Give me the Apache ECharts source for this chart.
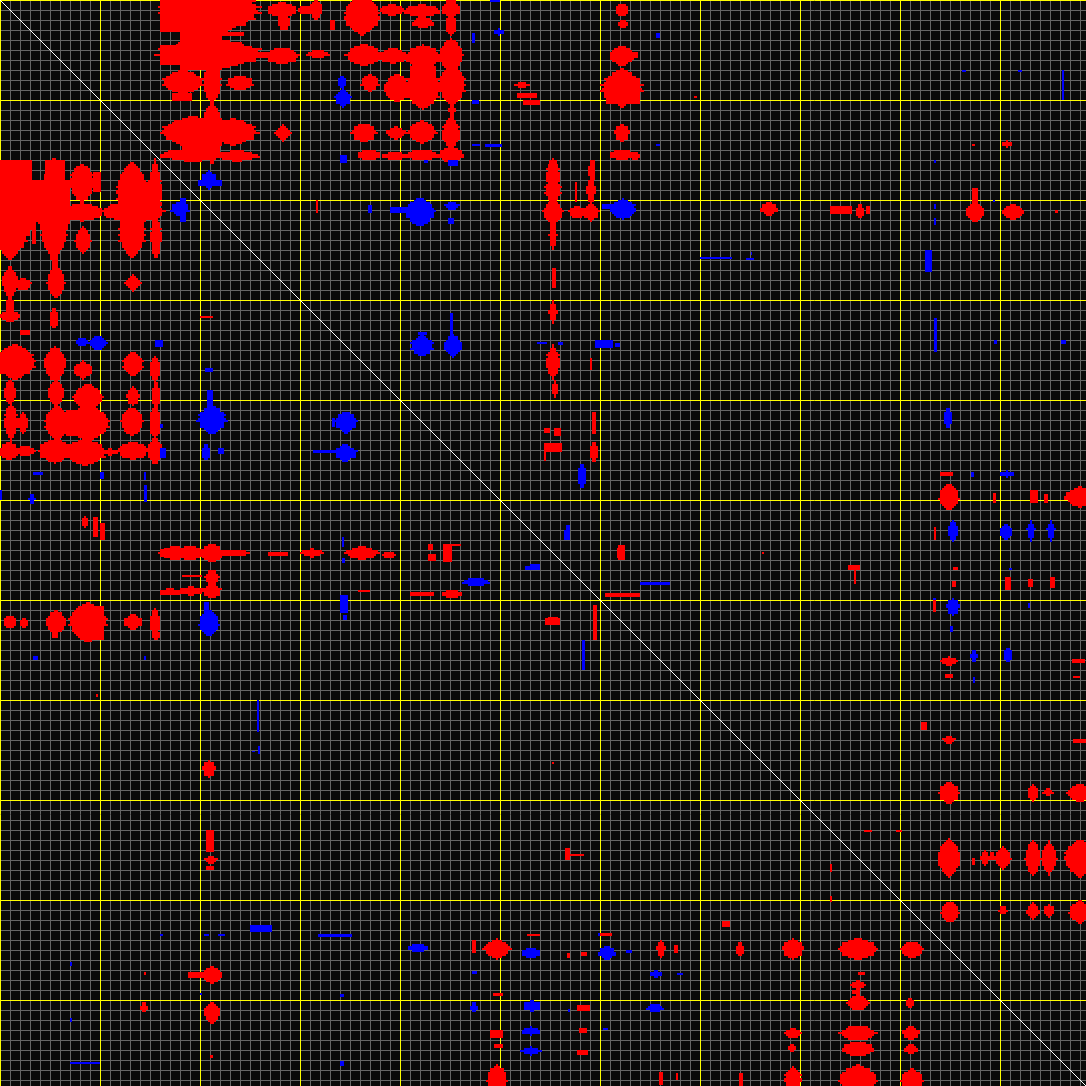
<!DOCTYPE html>
<html><head><meta charset="utf-8">
<style>html,body{margin:0;padding:0;background:#0a0a0a}#c{width:1086px;height:1086px}</style>
<script src="https://cdn.jsdelivr.net/npm/echarts@6/dist/echarts.min.js"></script>
</head><body><div id="c"></div>
<script>
var residueCount = 543;
var minorStep = 5;
var majorStep = 50;
var diagonalEnds = [[0, 0], [543, 543]];

// Contact blobs, upper triangle: [centre i, centre j, half width, half height]
var redBlobs = [
[105,5,22,11],[105,27,23.5,7],[91.5,41,9,5.5],[106,41,4,10],[120,41.5,6,3.5],[106,66.5,5,14],[96.5,66,14,7],[116.5,66,11,6],
[96.5,77.5,15,3],[118.5,78,10,2.5],[132.5,27.5,5,1.5],[141.5,66.5,3.5,3.5],[141,5,7,3.5],[142,11.5,3,3.5],[141,28,7.5,4],
[154,5,5,2],[158,5,3,4.5],[159,27,5,2],
[181,7.5,8,9],[196,5,6,2.5],[211,5.5,8.5,3],[211.5,11.5,5,2.5],[225.5,4.5,4,4.5],[225.5,12.5,2.5,4.5],
[182,27.5,8,5],[196.5,28,6.5,3.5],[211.5,28.5,8,5.5],[211.5,44,8,9.5],[225.5,27.5,5.5,7.5],[226,42.5,6,9.5],[226,55,1.5,4],[225.5,66.5,4,7],
[185,41.5,4,4],[198.5,44,6,6.5],[182,66.5,5.5,4.5],[198,66.5,4.5,3],[211,66,6.5,5],
[184.5,77.5,5.5,2.5],[197.5,78,6,2],[211,77.5,8,2.5],[225.5,77.5,6,3.5],
[311,5,3,3],[311.5,12,2,2],[311,28,5.5,4.5],[311,44,9,8.5],[317.5,42,2.5,3],[311,66.5,3.5,4],[311,77.5,6,2.5],[317.5,78,2,2],
[276.5,87.5,3,7.5],[276.5,95,3.5,6],[276.5,106,4.5,5],[276.5,117,1.75,7],[277,139,1.25,5],[276.5,156,2,5],[276.5,181,3,7.5],[277.5,194.5,1.25,3.75],
[288.5,106,3.5,3],[295.5,106,3.5,4],[295.5,95.5,2,6],[295.5,85,1.2,4],[297,211,1.2,6],[297,226,2,4.5],[261,42.5,3,1.5],
[384.5,104.5,4,3],[430,105.5,2,3],[487.5,106,4,4.5],[506.5,106,5,3.5],[503.5,72,2.5,1.5],
[474.5,248.5,4.5,6],[540,248.5,7,4.5],[474.5,330.5,3.5,2],[474.5,370,3,2],
[474.5,396.5,4.5,5],[516.5,396.5,2.5,3.5],[524,396,2.25,1.75],[540,396.5,6,4],
[474.5,429,5,8.5],[492.5,429,2,3.5],[501.5,429,3.5,5],[516.5,429,3.5,8],[524.5,429,3.5,7.5],[540,429,7,8.5],
[475,456,4,5],[501.5,455,2,2],[516.5,455.5,3,4],[524.5,455.5,2.5,3],[540,456,5,5]
];
var blueBlobs = [
[104.5,90,3.5,4],[210,106,6.5,6.5],[226,103,3.5,2],[225.5,110.5,1.5,1.5],[211,173,5,5],[226.5,173,3.5,5],
[172.5,211,4,4.5],[172.5,226.5,4.5,4],[171,41,2,3],[171.5,49,3.5,4],[249.5,16,2.5,1.5],[311.5,104.5,6,4.5],
[291,238,2,6],[474,209,2,4.5],[476.5,265.5,2.5,4.5],[503,266,2.5,4],[515.5,265.5,1.75,4.5],[525.5,265.5,1.75,4.5],
[503.5,237,3,1.5],[476.5,303.5,3,4],[487,328,1.5,3],[504,327.5,2,3.5]
];
// Block-shaped patches: [i from, i to, j from, j to]
var redPatches = [
[80,111,0,16],[90,111,0,35],[80,107.5,22.5,32.5],[111,122,16,18],[103,110,34,47],[86,96,46.5,50.5],[91,108,60,80],
[165,167.5,10,15],[316,319,26,29],[303,320,47,52],[205,218,33,38],[274.5,278.5,80,108],
[272,275,214,216.5],[277,280.5,214,218],[272,281,221.5,226],[272,273,226,230.5],[295,296,179,185],[287.5,288.5,91,101],
[258.5,268.5,46.5,49],[261.5,270,50,52.5],[295,297.5,80,90],
[415,426,103,107],[433,435,103,107],[486,489,94,102],[527.5,529,105,106.5],[486,487.5,72,73],[158,159,100,106.5],
[496.5,498,246.5,251.5],[515,519,245,251.5],[522,524,247,251.5],[470,476.5,236,238],[467,468,263.5,270],
[476.5,479,283.5,285],[476,478,290.5,293.5],[502.5,505.5,288.5,295],[514,516.5,289.5,293.5],[525,527.5,288.5,294],
[466.5,468,300,306],[472.5,476.5,337,339],[536,542.5,329.5,331.5],[536.5,540,338,339],[536.5,543,369.5,371.5],[460.5,463.5,361,365],
[486,487.5,429,432.5],[495,497,426,430],[492.5,501.5,428,430],
[308.5,312.5,274,279],[424,430,282.5,285],[302.5,320,296.5,298.5],[272.5,280,309,312.5],[296.5,298.5,302.5,320],
[347,348.5,48,49],[432,436,415,416],[448,451,415,416],[381,382,276,277],[427,428,284,292]
];
var bluePatches = [
[99,111,90,93],[195,204,103.5,106.5],[184,186,102.5,106.5],[209,213.5,166,167.5],[225,226.5,156.5,168.5],[156.5,169,225.5,226.5],
[242.5,251,72,73.5],[245,250,0,1],[236,237.5,16.5,21.5],[236,240,72,73],[328,330,16.5,19],[328,330,72,73],
[301,307.5,102,104.5],[297.5,306.5,170,174],[307.5,310,171.5,173.5],[268.5,273.5,171,172],[279,281.5,171,172.5],
[282,284.5,265,270],[262.5,270,283,285],[320,335,291,292.5],[485.5,487,236,238.5],[475,476.5,313,316],[514,515,301.5,304],
[466.5,468,299,300],[486.5,487.5,338.5,341.5],[504.5,506,284,285],[467,468,80,81.5],[467,468,102,104.5],[467,468,109,112.5],
[375.5,376,126,127.5],[463,465,125,127.5],[496.5,497.5,100,101],[467,468.5,159,176],[462.5,466,125,136],[350,366,128.5,129.5],
[373,377,129,130],[531,532,35,50],[530.5,533,170,172],[497,498.5,170,172],[481,483,35,36],[509,511,35,36],
[212,214,80,81.5],[224,229,80,83],[170,173.5,77.5,81.5],[236,239.5,50,52]
];

var red = '#ff0000', blue = '#0000ff', yellow = '#ffff00', gray = '#666666', white = '#ffffff', background = '#0a0a0a';

// The contact matrix is symmetric: every reading is drawn on both sides of the diagonal.
function withMirrorBlobs(list) {
  return list.concat(list.map(function (b) { return [b[1], b[0], b[3], b[2]]; }));
}
function withMirrorPatches(list) {
  return list.concat(list.map(function (p) { return [p[2], p[3], p[0], p[1]]; }));
}
function rectBetween(api, i0, i1, j0, j1, color) {
  var a = api.coord([i0, j0]), b = api.coord([i1, j1]);
  return { type: 'rect', shape: { x: a[0], y: a[1], width: b[0] - a[0], height: b[1] - a[1] }, style: { fill: color } };
}
// Rounded spindle outline with the stepped, comb-like edge of a residue matrix.
function blobRenderer(color) {
  return function (params, api) {
    var cx = api.value(0), cy = api.value(1), rx = api.value(2) * 1.08, ry = api.value(3) * 1.15, kids = [];
    for (var r = Math.floor(cy - ry); r < cy + ry; r++) {
      var t = Math.abs((r + 0.5 - cy) / ry);
      if (t >= 1) continue;
      var comb = [1.1, 0.95, 1][((r % 3) + 3) % 3];
      var hw = rx * (1 - Math.pow(t, 2.2)) * comb;
      kids.push(rectBetween(api, Math.round(cx - hw), Math.round(cx + hw), r, r + 1, color));
    }
    return { type: 'group', children: kids };
  };
}
function patchRenderer(color) {
  return function (params, api) {
    return rectBetween(api, api.value(0), api.value(1), api.value(2), api.value(3), color);
  };
}
function valueAxis(step, color, inverse, z) {
  return {
    type: 'value', min: 0, max: residueCount, interval: step, inverse: inverse, z: z,
    axisLabel: { show: false }, axisLine: { show: false }, axisTick: { show: false },
    splitLine: { show: true, lineStyle: { color: color, width: 1 } }
  };
}
function marks(data, render, z) {
  return { type: 'custom', xAxisIndex: 0, yAxisIndex: 0, data: data, renderItem: render, silent: true, z: z, clip: true };
}

var chart = echarts.init(document.getElementById('c'), null, { renderer: 'canvas' });
chart.setOption({
  animation: false,
  backgroundColor: background,
  grid: { left: 0, right: 0, top: 0, bottom: 0, containLabel: false },
  tooltip: { show: false },
  xAxis: [valueAxis(minorStep, gray, false, 0), valueAxis(majorStep, yellow, false, 1)],
  yAxis: [valueAxis(minorStep, gray, true, 0), valueAxis(majorStep, yellow, true, 1)],
  series: [
    marks(withMirrorPatches(redPatches), patchRenderer(red), 3),
    marks(withMirrorBlobs(redBlobs), blobRenderer(red), 3),
    marks(withMirrorPatches(bluePatches), patchRenderer(blue), 4),
    marks(withMirrorBlobs(blueBlobs), blobRenderer(blue), 4),
    { type: 'line', data: diagonalEnds, xAxisIndex: 0, yAxisIndex: 0, showSymbol: false, silent: true, z: 5,
      lineStyle: { color: white, width: 1 } }
  ]
});
</script></body></html>
